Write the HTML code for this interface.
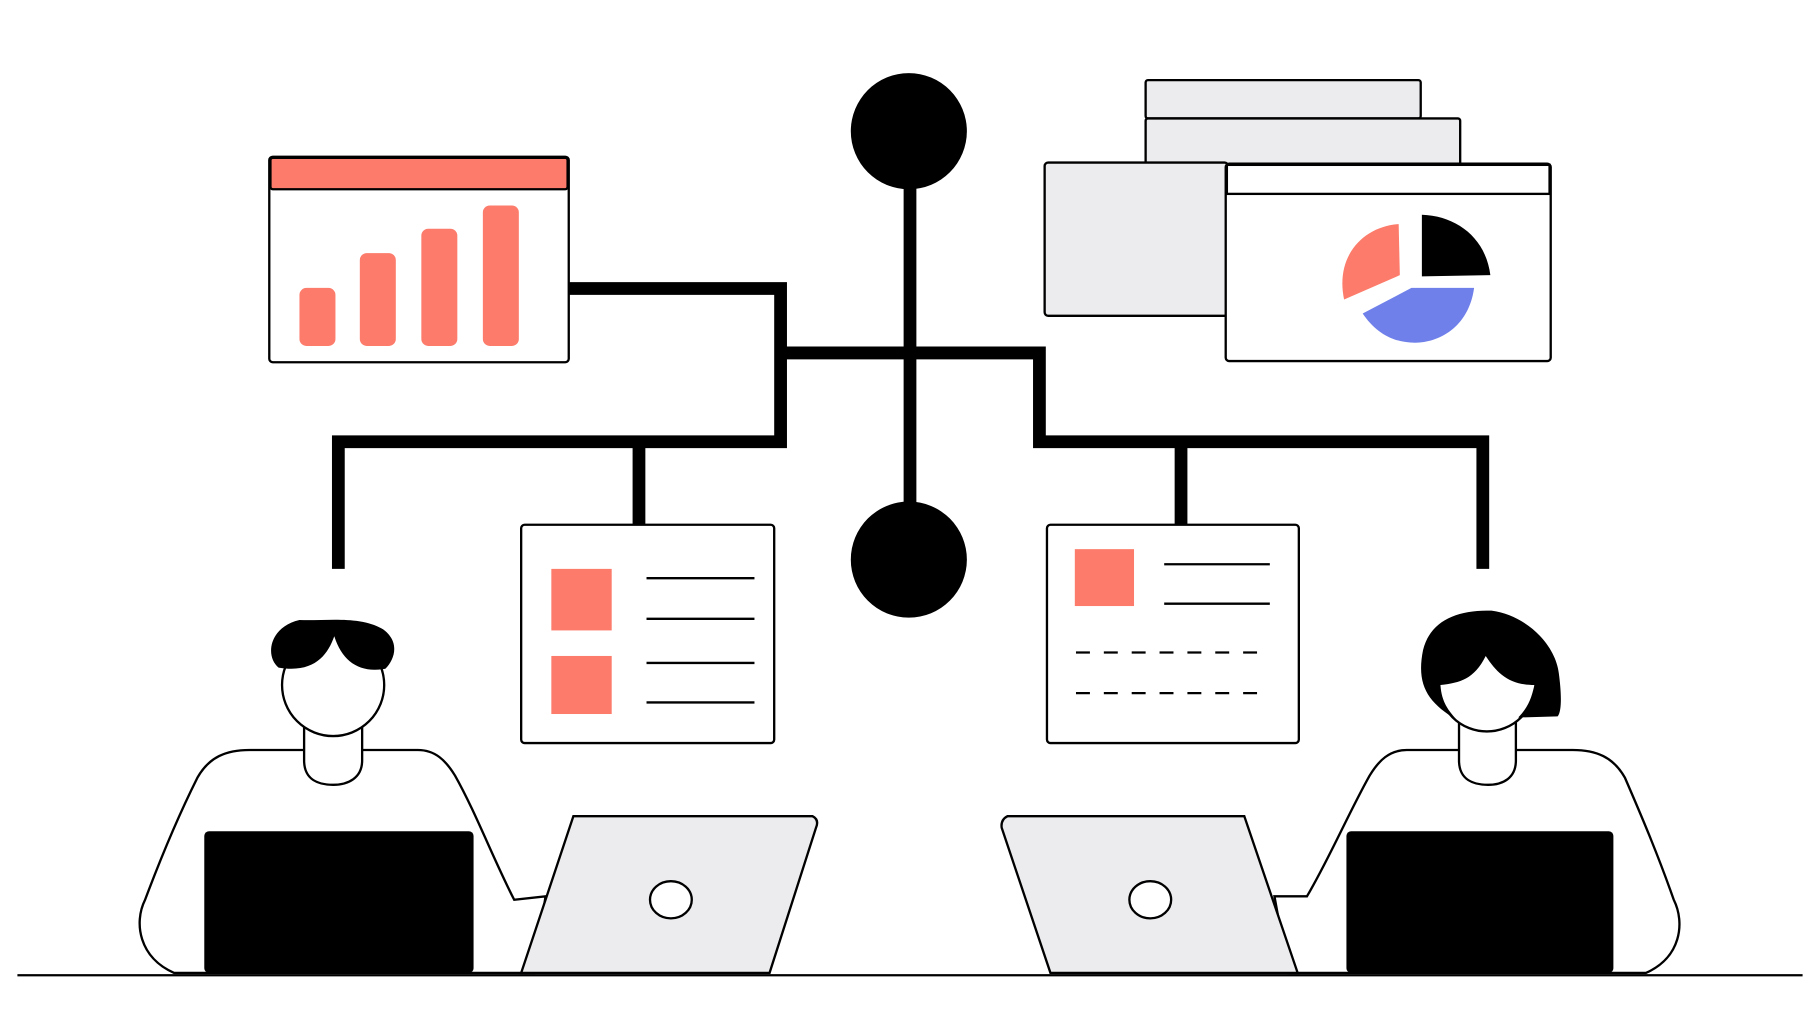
<!DOCTYPE html>
<html><head><meta charset="utf-8"><style>
html,body{margin:0;padding:0;background:#fff;}
svg{display:block;}
</style></head><body>
<svg width="1820" height="1024" viewBox="0 0 1568 882" preserveAspectRatio="none" xmlns="http://www.w3.org/2000/svg">
<rect width="1568" height="882" fill="#fff"/>
<g fill="none" stroke="#000" stroke-width="11" stroke-linejoin="miter">
  <line x1="784" y1="150" x2="784" y2="440"/>
  <polyline points="490,248.5 672.5,248.5 672.5,380.5 291.5,380.5 291.5,490"/>
  <line x1="550.5" y1="380" x2="550.5" y2="453"/>
  <polyline points="672,304 895.5,304 895.5,380.5 1277.5,380.5 1277.5,490"/>
  <line x1="1017.5" y1="380" x2="1017.5" y2="453"/>
</g>
<circle cx="783" cy="113" r="50" fill="#000"/>
<circle cx="783" cy="482" r="50" fill="#000"/>

<rect x="232" y="135" width="258" height="177" fill="#fff" stroke="#000" stroke-width="2" rx="3"/>
<rect x="233" y="136" width="256" height="27" fill="#fc7b6a" stroke="#000" stroke-width="2" rx="2"/>
<g fill="#fc7b6a">
  <rect x="258" y="248" width="31" height="50" rx="6"/>
  <rect x="310" y="218" width="31" height="80" rx="6"/>
  <rect x="363" y="197" width="31" height="101" rx="6"/>
  <rect x="416" y="177" width="31" height="121" rx="6"/>
</g>

<g stroke="#000" stroke-width="2">
  <rect x="987" y="69" width="237" height="33" fill="#ececee" rx="2"/>
  <rect x="987" y="102" width="271" height="40" fill="#ececee" rx="2"/>
  <rect x="900" y="140" width="158" height="132" fill="#ececee" rx="3"/>
  <rect x="1056" y="141" width="280" height="170" fill="#fff" rx="3"/>
  <rect x="1057" y="142" width="278" height="25" fill="#fff"/>
</g>
<path d="M1205,193 C1175,195 1150,220 1158,258 L1206,237 Z" fill="#fc7b6a"/>
<path d="M1225,185 C1255,186 1280,205 1284,237 L1225,238 Z" fill="#000"/>
<path d="M1216,248 L1270,248 C1265,285 1235,297 1215,295 C1198,294 1184,285 1174,270 Z" fill="#6f80ea"/>

<rect x="449" y="452" width="218" height="188" fill="#fff" stroke="#000" stroke-width="2" rx="3"/>
<rect x="475" y="490" width="52" height="53" fill="#fc7b6a"/>
<rect x="475" y="565" width="52" height="50" fill="#fc7b6a"/>
<g stroke="#000" stroke-width="2">
  <line x1="557" y1="498" x2="650" y2="498"/>
  <line x1="557" y1="533" x2="650" y2="533"/>
  <line x1="557" y1="571" x2="650" y2="571"/>
  <line x1="557" y1="605" x2="650" y2="605"/>
</g>
<rect x="902" y="452" width="217" height="188" fill="#fff" stroke="#000" stroke-width="2" rx="3"/>
<rect x="926" y="473" width="51" height="49" fill="#fc7b6a"/>
<g stroke="#000" stroke-width="2">
  <line x1="1003" y1="486" x2="1094" y2="486"/>
  <line x1="1003" y1="520" x2="1094" y2="520"/>
  <line x1="927" y1="562" x2="1090" y2="562" stroke-dasharray="12,12"/>
  <line x1="927" y1="597" x2="1090" y2="597" stroke-dasharray="12,12"/>
</g>

<line x1="15" y1="840" x2="1553" y2="840" stroke="#000" stroke-width="2"/>

<!-- left person -->
<g stroke="#000" stroke-width="2">
  <path d="M150,838 C120,825 115,795 125,775 C140,735 155,700 170,670 C180,652 195,646 215,646 L360,646 C375,646 384,655 392,668 C410,700 425,740 443,775 L470,772 L460,838 Z" fill="#fff"/>
  <path d="M262,620 L262,655 C262,672 275,676 287,676 C300,676 312,670 312,655 L312,620 Z" fill="#fff"/>
  <circle cx="287" cy="590" r="44" fill="#fff"/>
</g>
<path d="M240,575 C228,565 232,540 258,534 C280,535 310,530 330,542 C345,553 340,568 332,576 C310,580 295,570 288,548 C282,565 270,580 240,575 Z" fill="#000"/>
<rect x="176" y="716" width="232" height="122" rx="4" fill="#000"/>
<path d="M494,703 L700,703 Q706,706 703,713 L663,838 L449,838 Z" fill="#ececee" stroke="#000" stroke-width="2"/>
<ellipse cx="578" cy="775" rx="18" ry="16" fill="#fff" stroke="#000" stroke-width="2"/>

<!-- right person -->
<g stroke="#000" stroke-width="2">
  <path d="M1418,838 C1448,825 1452,795 1442,775 C1428,735 1413,700 1400,670 C1390,652 1375,646 1355,646 L1212,646 C1197,646 1188,655 1180,668 C1162,700 1145,740 1126,772 L1098,772 L1110,838 Z" fill="#fff"/>
  <path d="M1257,615 L1257,655 C1257,672 1270,676 1282,676 C1295,676 1306,670 1306,655 L1306,615 Z" fill="#fff"/>
  <circle cx="1281" cy="588" r="42" fill="#fff"/>
</g>
<path d="M1255,620 C1230,605 1220,590 1226,560 C1232,535 1255,525 1285,526 C1315,530 1340,555 1343,580 C1345,595 1346,612 1342,617 L1308,618 C1318,608 1320,598 1322,590 C1300,590 1290,580 1280,565 C1270,585 1258,588 1241,590 C1242,605 1248,612 1255,620 Z" fill="#000"/>
<rect x="1160" y="716" width="230" height="122" rx="4" fill="#000"/>
<path d="M868,703 L1072,703 L1118,838 L905,838 L863,713 Q862,706 868,703 Z" fill="#ececee" stroke="#000" stroke-width="2"/>
<ellipse cx="991" cy="775" rx="18" ry="16" fill="#fff" stroke="#000" stroke-width="2"/>
</svg>
</body></html>
